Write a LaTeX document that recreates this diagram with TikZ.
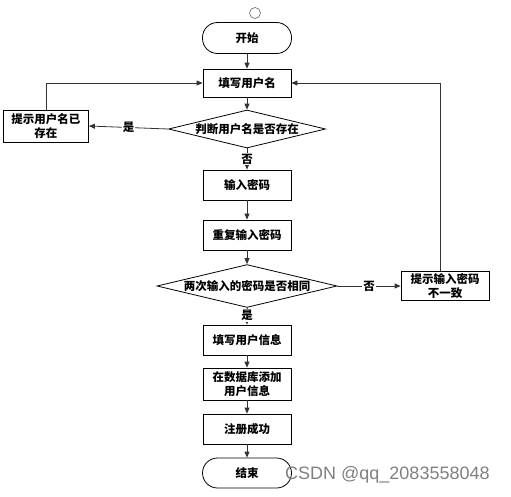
\documentclass[tikz,border=0pt]{standalone}
\usepackage{fontspec}
\setsansfont{Liberation Sans}
\newfontfamily\cjk{Noto Sans CJK SC}
\usetikzlibrary{shapes.geometric,arrows.meta}

\begin{document}
\begin{tikzpicture}[x=1pt, y=-1pt,
    every node/.style={font=\cjk\bfseries\fontsize{11.5}{14}\selectfont},
    proc/.style={draw, line width=0.8pt, fill=white, minimum width=88pt, minimum height=30pt, align=center, inner sep=1pt},
    term/.style={draw, line width=0.8pt, fill=white, rounded corners=15pt, minimum width=89pt, minimum height=31pt},
    decide/.style={draw, line width=0.8pt, diamond, aspect=4, inner sep=0pt},
    flow/.style={-{Triangle[length=6pt,width=5pt]}, line width=0.8pt, draw=black!80},
    lab/.style={fill=white, inner sep=1pt}]
    \useasboundingbox (0,0) rectangle (511,496);

    % start / user name
    \draw[line width=0.6pt, draw=black!60] (255,13) circle (5.5pt);
    \node[term] (start) at (247,38) {开始};
    \node[proc, minimum height=28pt] (name) at (247,83) {填写用户名};
    \node[decide, minimum width=157pt, minimum height=38pt] (check) at (247,129) {判断用户名是否存在};
    \node[proc, minimum width=85pt, minimum height=32pt] (exist) at (46,126) {提示用户名已\\存在};

    % password
    \node[proc] (pwd) at (247,185) {输入密码};
    \node[proc] (repwd) at (247,235) {重复输入密码};
    \node[decide, minimum width=180pt, minimum height=39pt] (same) at (247,286) {两次输入的密码是否相同};
    \node[proc, minimum width=88pt, minimum height=29pt] (diff) at (445,286) {提示输入密码\\不一致};

    % register
    \node[proc] (info) at (247,340) {填写用户信息};
    \node[proc, minimum height=32pt] (db) at (247,384) {在数据库添加\\用户信息};
    \node[proc] (done) at (247,429) {注册成功};
    \node[term, minimum height=30pt] (stop) at (247,473) {结束};

    % connectors
    \draw[flow] (start) -- (name);
    \draw[flow] (name) -- (check);
    \draw[flow] (check.west) -- node[lab] {是} (exist.east);
    \draw[flow] (exist.north) |- (name.west);
    \draw[flow] (check.south) -- node[lab] {否} (pwd.north);
    \draw[flow] (pwd) -- (repwd);
    \draw[flow] (repwd) -- (same);
    \draw[flow] (same.east) -- node[lab] {否} (diff.west);
    \draw[flow] ([xshift=-5pt]diff.north) |- (name.east);
    \draw[flow] (same.south) -- node[lab, pos=0.45] {是} (info.north);
    \draw[flow] (info) -- (db);
    \draw[flow] (db) -- (done);
    \draw[flow] (done) -- (stop);

    % watermark
    \node[font=\sffamily\fontsize{18}{20}\selectfont, text=black!50, anchor=west, inner sep=0pt] (mark) at (285,475) {CSDN @qq\_2083558048};
\end{tikzpicture}
\end{document}
